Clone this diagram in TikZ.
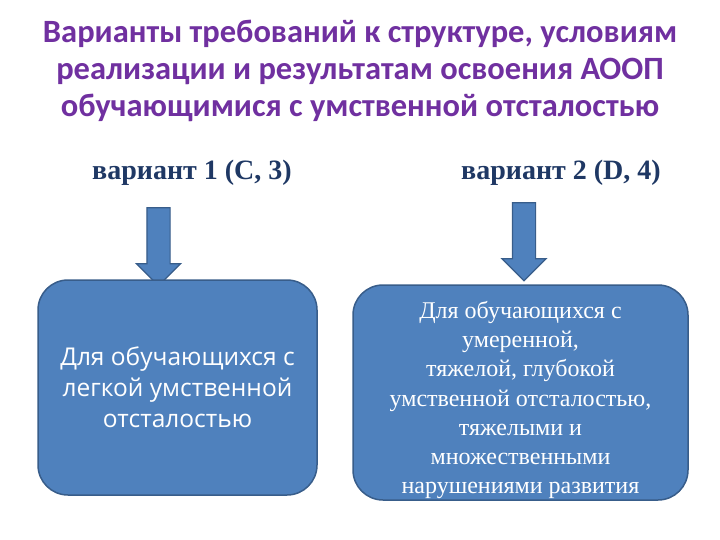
\documentclass[tikz,border=0pt]{standalone}
\usepackage{fontspec}
\setmainfont{Liberation Serif}
\newfontfamily\headfont{Carlito}
\newfontfamily\boxfont{Open Sans}
\usetikzlibrary{shapes.arrows}
\definecolor{headpurple}{HTML}{7030A0}
\definecolor{navy}{HTML}{1F3864}
\definecolor{fillblue}{HTML}{4F81BD}
\definecolor{edgeblue}{HTML}{385D8A}
\tikzset{
  heading/.style={align=center,text=headpurple,font=\headfont\bfseries\fontsize{32.5}{37}\selectfont},
  variant/.style={text=navy,font=\bfseries\fontsize{28}{32}\selectfont},
  groupbox/.style={rectangle,rounded corners=30pt,draw=edgeblue,line width=1.5pt,fill=fillblue,
    text=white,align=center,minimum height=215pt,inner sep=1pt},
  boxtext/.style={text=white,align=center,inner sep=0pt},
  downarrow/.style={single arrow,rotate=-90,draw=edgeblue,line width=1.2pt,fill=fillblue,
    minimum height=78pt,minimum width=43pt,inner xsep=0pt,inner ysep=11pt,
    single arrow head extend=10.5pt,single arrow head indent=0pt}
}
\begin{document}
\begin{tikzpicture}[x=1pt,y=1pt]
\fill[white] (0,0) rectangle (720,-540);
\useasboundingbox (0,0) rectangle (720,-540);
\node[heading] (title) at (360,-71) {Варианты требований к структуре, условиям\\реализации и результатам освоения АООП\\обучающимися с умственной отсталостью};
\node[variant] (var1) at (192,-173) {вариант 1 (С, 3)};
\node[variant] (var2) at (561,-173) {вариант 2 (D, 4)};
\node[downarrow] (arr1) at (158.5,-241) {};
\node[downarrow] (arr2) at (524,-236) {};
\node[groupbox,minimum width=279pt,font=\boxfont\fontsize{24.5}{31}\selectfont] (box1) at (177.5,-387.5)
  {Для обучающихся с\\легкой умственной\\отсталостью};
\node[groupbox,minimum width=335pt] (box2) at (520.5,-392.5) {};
\node[boxtext,font=\fontsize{24}{29.2}\selectfont] (box2text) at (520.5,-400)
  {Для обучающихся с\\умеренной,\\тяжелой, глубокой\\умственной отсталостью,\\тяжелыми и\\множественными\\нарушениями развития};
\end{tikzpicture}
\end{document}
